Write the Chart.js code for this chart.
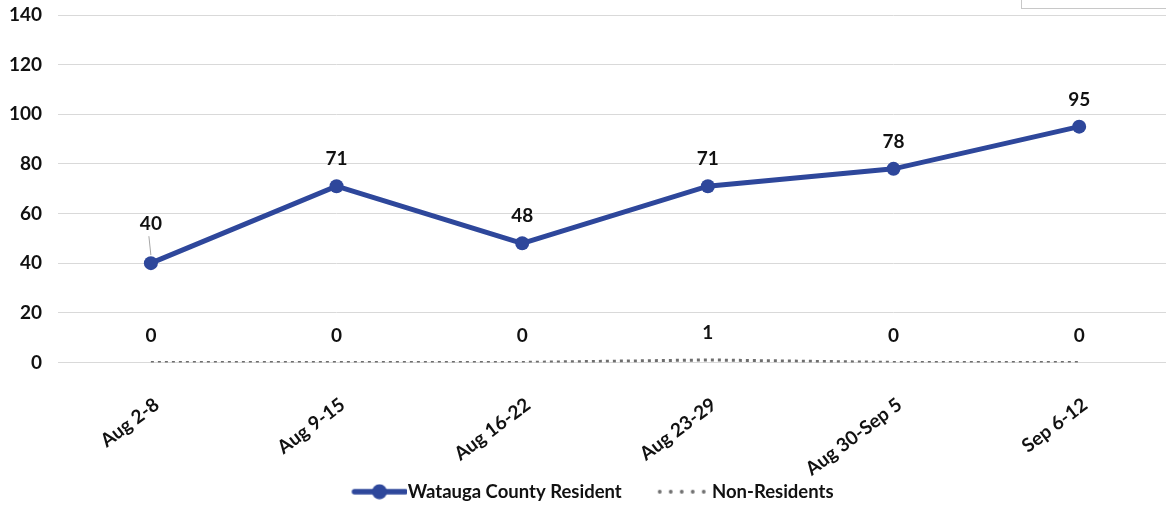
<!DOCTYPE html>
<html>
<head>
<meta charset="utf-8">
<script src="https://cdn.jsdelivr.net/npm/chart.js@4.4.1/dist/chart.umd.min.js"></script>
<style>
  html, body { margin: 0; padding: 0; background: #fff; overflow: hidden; }
  #wrap { position: relative; width: 1166px; height: 505px; overflow: hidden; }
  #corner { position: absolute; left: 1021px; top: -2px; width: 150px; height: 9px; border: 1px solid #c8c8c8; background: #fff; }
</style>
</head>
<body>
<div id="wrap">
  <canvas id="lineChart" width="1180" height="511"></canvas>
  <div id="corner"></div>
</div>
<script>
const weeks = ['Aug 2-8', 'Aug 9-15', 'Aug 16-22', 'Aug 23-29', 'Aug 30-Sep 5', 'Sep 6-12'];
const residents = [40, 71, 48, 71, 78, 95];
const nonResidents = [0, 0, 0, 1, 0, 0];
const yTicks = [0, 20, 40, 60, 80, 100, 120, 140];

const blue = '#2E479B';
const grey = '#6E6E6E';
const ink = '#111111';
const fontFam = 'Lato, "Open Sans", sans-serif';

// legend swatches: 85px wide image, the mark sits in the right 55px so it butts onto the text
function swatch(kind) {
  const c = document.createElement('canvas');
  c.width = 85; c.height = 16;
  const g = c.getContext('2d');
  const x0 = 30;
  if (kind === 'line') {
    g.strokeStyle = blue; g.lineWidth = 5.5; g.lineCap = 'round';
    g.beginPath(); g.moveTo(x0 + 2, 8); g.lineTo(x0 + 53, 8); g.stroke();
    g.fillStyle = blue;
    g.beginPath(); g.arc(x0 + 27, 8, 7.5, 0, Math.PI * 2); g.fill();
  } else {
    g.fillStyle = grey;
    for (let i = 0; i < 5; i++) {
      g.beginPath(); g.arc(x0 + 3 + i * 11, 8, 1.9, 0, Math.PI * 2); g.fill();
    }
  }
  return c;
}

// the x axis box is shrunk to pull the plot down; let its rotated labels draw past it
const unclipLabels = {
  id: 'unclipLabels',
  beforeDraw(chart) { chart.scales.x.bottom = chart.height; }
};

// value labels over the points
const valueLabels = {
  id: 'valueLabels',
  afterDatasetsDraw(chart) {
    const ctx = chart.ctx;
    ctx.save();
    ctx.font = 'bold 19px ' + fontFam;
    ctx.fillStyle = ink;
    ctx.textAlign = 'center';
    ctx.textBaseline = 'middle';
    chart.data.datasets.forEach((ds, di) => {
      chart.getDatasetMeta(di).data.forEach((pt, i) => {
        let lift = 27;
        if (di === 0 && i === 0) {
          lift = 39;
          ctx.strokeStyle = '#a6a6a6';
          ctx.lineWidth = 1;
          ctx.beginPath();
          ctx.moveTo(pt.x, pt.y - 8);
          ctx.lineTo(pt.x - 2, pt.y - lift + 12);
          ctx.stroke();
        }
        ctx.fillText(ds.data[i], pt.x, pt.y - lift);
      });
    });
    ctx.restore();
  }
};

new Chart(document.getElementById('lineChart').getContext('2d'), {
  type: 'line',
  data: {
    labels: weeks,
    datasets: [{
      label: 'Watauga County Resident',
      data: residents,
      borderColor: blue,
      backgroundColor: blue,
      borderWidth: 5,
      pointRadius: 7,
      pointBackgroundColor: blue,
      pointBorderWidth: 0,
      tension: 0,
      pointStyle: 'circle'
    }, {
      label: 'Non-Residents',
      data: nonResidents,
      borderColor: grey,
      backgroundColor: grey,
      borderWidth: 3,
      borderDash: [3, 4],
      pointRadius: 0,
      tension: 0
    }]
  },
  options: {
    responsive: false,
    animation: false,
    layout: { padding: { top: 15, right: 8, left: -7, bottom: 0 } },
    scales: {
      x: {
        offset: true,
        grid: { display: false },
        border: { display: false },
        afterFit: axis => { axis.paddingLeft = 0; axis.paddingRight = 0; axis.height -= 35; },
        ticks: {
          minRotation: 37, maxRotation: 37,
          padding: 23,
          labelOffset: 6,
          color: ink,
          font: { family: fontFam, size: 19, weight: 'bold' }
        }
      },
      y: {
        min: 0, max: 140,
        afterBuildTicks: axis => { axis.ticks = yTicks.map(v => ({ value: v })); },
        afterFit: axis => { axis.paddingTop = 0; axis.paddingBottom = 0; },
        grid: { color: '#d9d9d9', lineWidth: 1, drawTicks: false },
        border: { display: false },
        ticks: {
          padding: 16,
          color: ink,
          font: { family: fontFam, size: 19, weight: 'bold' }
        }
      }
    },
    plugins: {
      tooltip: { enabled: false },
      legend: {
        position: 'bottom',
        labels: {
          usePointStyle: true,
          pointStyleWidth: 67,
          padding: 14,
          color: ink,
          font: { family: fontFam, size: 18.5, weight: 'bold' },
          generateLabels: chart => chart.data.datasets.map((ds, i) => ({
            text: ds.label,
            datasetIndex: i,
            pointStyle: swatch(i === 0 ? 'line' : 'dots'),
            fillStyle: ds.borderColor,
            strokeStyle: ds.borderColor,
            lineWidth: 0,
            fontColor: ink
          }))
        }
      }
    }
  },
  plugins: [unclipLabels, valueLabels]
});
</script>
</body>
</html>
